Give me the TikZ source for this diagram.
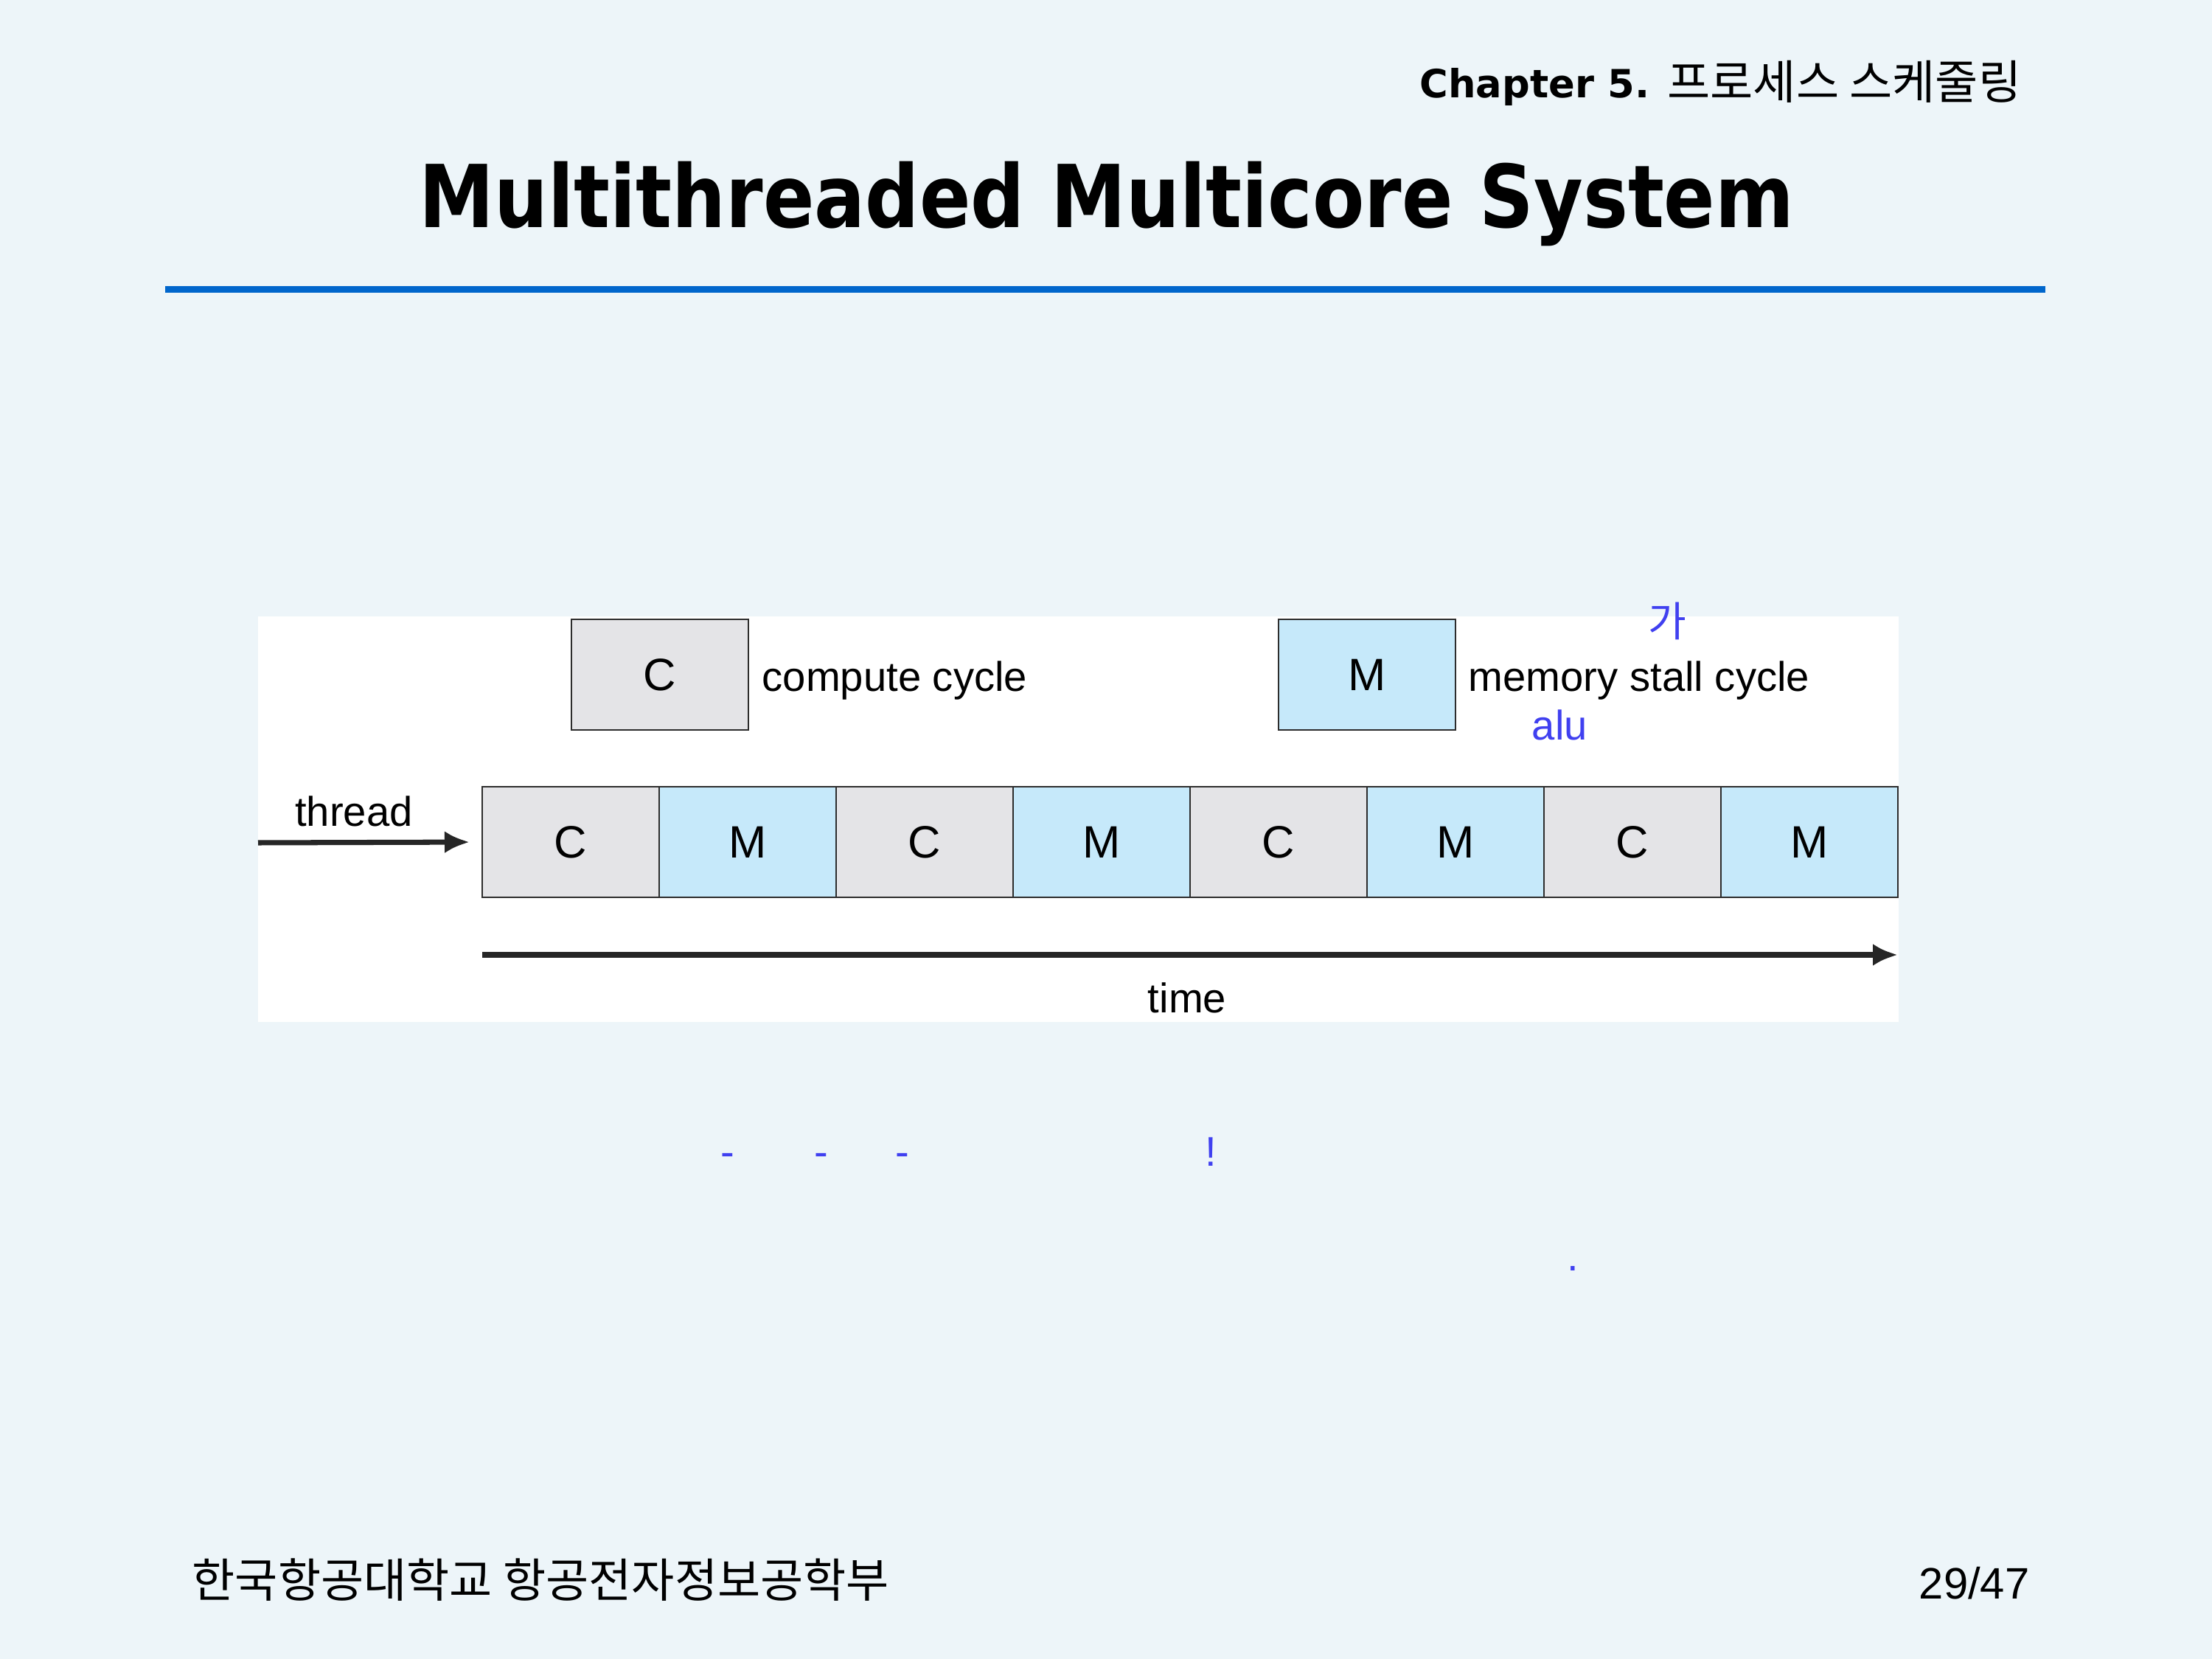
\documentclass[tikz,border=0pt]{standalone}
\usepackage{fontspec}
\setmainfont{Liberation Sans}
\newfontfamily\titlefont{DejaVu Sans}
\newfontfamily\krfont{Noto Sans CJK KR}
\usetikzlibrary{arrows.meta,positioning}

\definecolor{slidebg}{RGB}{237,245,249}
\definecolor{rulecol}{RGB}{0,102,204}
\definecolor{cfill}{RGB}{228,228,231}
\definecolor{mfill}{RGB}{198,233,250}
\definecolor{boxline}{RGB}{45,45,45}
\definecolor{notecol}{RGB}{64,64,240}

\tikzset{
  cyc/.style={draw=boxline, line width=0.8pt, minimum width=2.40cm, minimum height=1.50cm,
    inner sep=0pt, outer sep=0pt, font=\fontsize{17.5}{20}\selectfont},
  cbox/.style={cyc, fill=cfill},
  mbox/.style={cyc, fill=mfill},
  lbl/.style={inner sep=0pt, font=\fontsize{16}{19}\selectfont},
  note/.style={lbl, text=notecol},
  flow/.style={draw=black!85, line width=2pt, -{Latex[length=3.4mm,width=3mm]}}
}

\begin{document}
\begin{tikzpicture}

\fill[slidebg] (0,0) rectangle (30,-22.5);
\useasboundingbox (0,0) rectangle (30,-22.5);

% slide header
\node[anchor=base west, inner sep=0pt] (chap) at (19.25,-1.33) {\titlefont\bfseries\fontsize{15}{18}\selectfont Chapter 5.};
\node[anchor=base east, inner sep=0pt] (chapkr) at (27.42,-1.35) {\krfont\fontsize{18}{21}\selectfont 프로세스 스케줄링};
\node[anchor=base, inner sep=0pt] (title) at (15.01,-3.09)
  {\scalebox{0.87}[1]{\titlefont\bfseries\fontsize{33.5}{38}\selectfont Multithreaded Multicore System}};
\fill[rulecol] (2.24,-3.88) rectangle (27.74,-3.97);

% figure panel
\fill[white] (3.50,-8.36) rectangle (25.75,-13.86);

\node[cbox] (legc) at (8.95,-9.15) {C};
\node[anchor=base west, lbl] (legctext) at (10.33,-9.38) {compute cycle};
\node[mbox] (legm) at (18.54,-9.15) {M};
\node[anchor=base west, lbl] (legmtext) at (19.91,-9.38) {memory stall cycle};

\node[cbox] (r1) at (7.74,-11.42) {C};
\foreach \i/\j/\k in {2/1/M,3/2/C,4/3/M,5/4/C,6/5/M,7/6/C,8/7/M}{
  \ifodd\i
    \node[cbox, right=0cm of r\j] (r\i) {\k};
  \else
    \node[mbox, right=0cm of r\j] (r\i) {\k};
  \fi
}

\coordinate (thrin) at (3.50,-11.43);
\draw[flow, shorten >=0.17cm] (thrin) -- (r1.west);
\node[anchor=base, lbl] (thr) at (4.80,-11.20) {thread};

\coordinate (tstart) at (6.54,-12.95);
\coordinate (tend) at (25.74,-12.95);
\draw[flow] (tstart) -- (tend);
\node[anchor=base, lbl] (time) at (16.10,-13.73) {time};

% blue notes
\node[note, font=\krfont\fontsize{16}{19}\selectfont] (ga) at (22.61,-8.42) {가};
\node[anchor=base west, note] (alu) at (20.77,-10.04) {alu};
\node[anchor=base, note] (d1) at (9.87,-15.81) {-};
\node[anchor=base, note] (d2) at (11.14,-15.81) {-};
\node[anchor=base, note] (d3) at (12.24,-15.81) {-};
\node[anchor=base, note] (ex) at (16.42,-15.81) {!};
\node[anchor=base, note] (dot) at (21.33,-17.23) {.};

% footer
\node[anchor=base west, inner sep=0pt] (univ) at (2.60,-21.66) {\krfont\fontsize{18}{21}\selectfont 한국항공대학교 항공전자정보공학부};
\node[anchor=base east, inner sep=0pt] (page) at (27.53,-21.68) {\fontsize{17}{20}\selectfont 29/47};

\end{tikzpicture}
\end{document}
